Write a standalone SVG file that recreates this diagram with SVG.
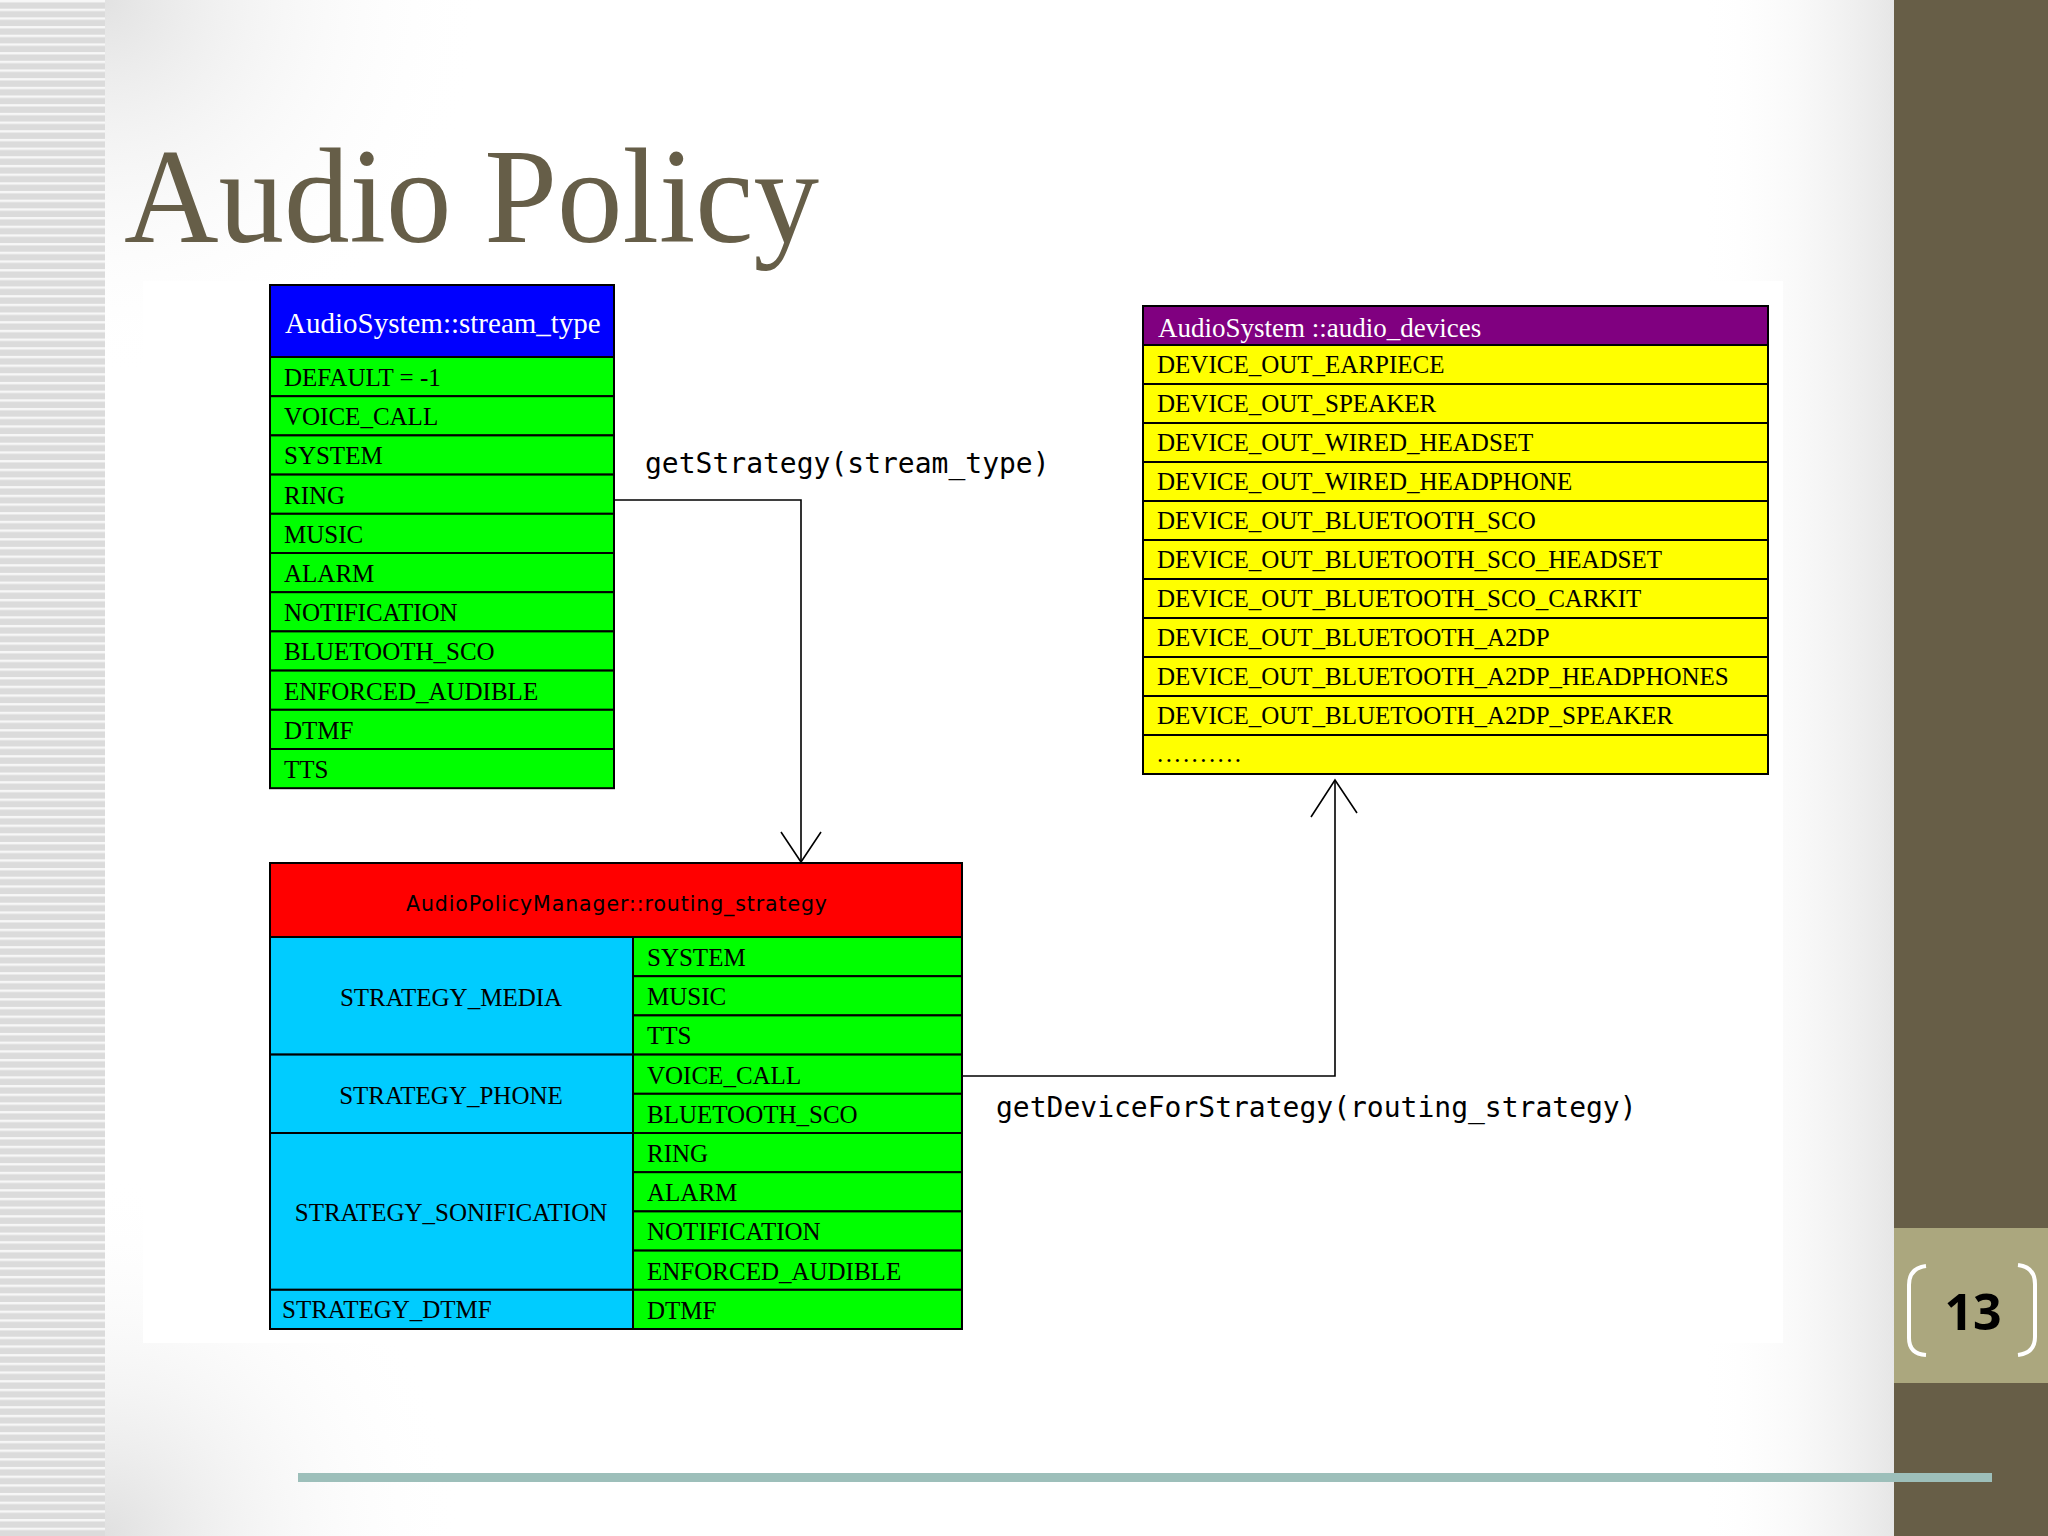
<svg xmlns="http://www.w3.org/2000/svg" width="2048" height="1536" viewBox="0 0 2048 1536">
<defs>
<pattern id="stripes" patternUnits="userSpaceOnUse" width="105" height="8.68">
<rect width="105" height="8.68" fill="#dbdbdb"/>
<rect y="0" width="105" height="2.4" fill="#f7f7f7"/>
</pattern>
<radialGradient id="tl" cx="105" cy="0" r="380" gradientUnits="userSpaceOnUse">
<stop offset="0" stop-color="#e2e2e2"/>
<stop offset="1" stop-color="#ffffff" stop-opacity="0"/>
</radialGradient>
<radialGradient id="bl" cx="105" cy="1536" r="360" gradientUnits="userSpaceOnUse">
<stop offset="0" stop-color="#e0e0e0"/>
<stop offset="1" stop-color="#ffffff" stop-opacity="0"/>
</radialGradient>
<linearGradient id="rt" x1="1700" y1="0" x2="1894" y2="0" gradientUnits="userSpaceOnUse">
<stop offset="0" stop-color="#ffffff" stop-opacity="0"/>
<stop offset="1" stop-color="#e6e6e6"/>
</linearGradient>
<style>
.cell{stroke:#000;stroke-width:2}
.g{fill:#00ff00}
.y{fill:#ffff00}
.c{fill:#00ccff}
.t{font-family:"Liberation Serif","Times New Roman",serif;font-size:25px;fill:#000}
.h{font-family:"Liberation Serif","Times New Roman",serif;fill:#fff}
.mono{font-family:"DejaVu Sans Mono","Liberation Mono",monospace;font-size:28px;fill:#000}
.conn{fill:none;stroke:#000;stroke-width:1.6}
</style>
</defs>

<!-- background -->
<rect x="0" y="0" width="2048" height="1536" fill="#ffffff"/>
<rect x="105" y="0" width="1789" height="1536" fill="url(#tl)"/>
<rect x="105" y="0" width="1789" height="1536" fill="url(#bl)"/>
<rect x="1700" y="0" width="194" height="1536" fill="url(#rt)"/>
<rect x="0" y="0" width="105" height="1536" fill="url(#stripes)"/>
<rect x="143" y="281" width="1640" height="1062" fill="#ffffff"/>

<!-- right panel -->
<rect x="1894" y="0" width="154" height="1536" fill="#675e47"/>
<rect x="1894" y="1228" width="154" height="155" fill="#aba77e"/>
<path d="M1926,1266 Q1909,1268 1909,1285 L1909,1338 Q1909,1354 1926,1355" fill="none" stroke="#fff" stroke-width="4"/>
<path d="M2018,1265 Q2035,1267 2035,1284 L2035,1337 Q2035,1353 2018,1355" fill="none" stroke="#fff" stroke-width="4"/>
<text x="1973" y="1330" text-anchor="middle" font-family="Open Sans, DejaVu Sans, sans-serif" font-weight="bold" font-size="50" fill="#000">13</text>

<!-- bottom rule -->
<rect x="298" y="1473" width="1694" height="9" fill="#9dbfba"/>

<!-- title -->
<text x="124" y="242" font-family="Liberation Serif, Times New Roman, serif" font-size="135" fill="#665e48" textLength="695" lengthAdjust="spacingAndGlyphs">Audio Policy</text>

<!-- connectors -->
<g id="connectors">
<path class="conn" d="M614,500 H801 V862"/>
<path class="conn" d="M781,832 L801,862 L821,832"/>
<text class="mono" x="645" y="473">getStrategy(stream_type)</text>
<path class="conn" d="M962,1076 H1335 V781"/>
<path class="conn" d="M1311,817 L1335,780 L1357,813"/>
<text class="mono" x="996" y="1117">getDeviceForStrategy(routing_strategy)</text>
</g>

<!-- stream_type table -->
<g id="stream_type">
<rect class="cell" x="270" y="285" width="344" height="72" fill="#0000ff"/>
<text class="h" x="285" y="333" font-size="29">AudioSystem::stream_type</text>
<rect class="cell g" x="270" y="357" width="344" height="39.2"/>
<rect class="cell g" x="270" y="396.2" width="344" height="39.2"/>
<rect class="cell g" x="270" y="435.4" width="344" height="39.2"/>
<rect class="cell g" x="270" y="474.6" width="344" height="39.2"/>
<rect class="cell g" x="270" y="513.8" width="344" height="39.2"/>
<rect class="cell g" x="270" y="553" width="344" height="39.2"/>
<rect class="cell g" x="270" y="592.2" width="344" height="39.2"/>
<rect class="cell g" x="270" y="631.4" width="344" height="39.2"/>
<rect class="cell g" x="270" y="670.6" width="344" height="39.2"/>
<rect class="cell g" x="270" y="709.8" width="344" height="39.2"/>
<rect class="cell g" x="270" y="749" width="344" height="39.2"/>
<text class="t" x="284" y="386">DEFAULT = -1</text>
<text class="t" x="284" y="425.2">VOICE_CALL</text>
<text class="t" x="284" y="464.4">SYSTEM</text>
<text class="t" x="284" y="503.6">RING</text>
<text class="t" x="284" y="542.8">MUSIC</text>
<text class="t" x="284" y="582">ALARM</text>
<text class="t" x="284" y="621.2">NOTIFICATION</text>
<text class="t" x="284" y="660.4">BLUETOOTH_SCO</text>
<text class="t" x="284" y="699.6">ENFORCED_AUDIBLE</text>
<text class="t" x="284" y="738.8">DTMF</text>
<text class="t" x="284" y="778">TTS</text>
</g>

<!-- audio_devices table -->
<g id="audio_devices">
<rect class="cell" x="1143" y="306" width="625" height="39" fill="#800080"/>
<text class="h" x="1158" y="337" font-size="27">AudioSystem ::audio_devices</text>
<rect class="cell y" x="1143" y="345" width="625" height="39"/>
<rect class="cell y" x="1143" y="384" width="625" height="39"/>
<rect class="cell y" x="1143" y="423" width="625" height="39"/>
<rect class="cell y" x="1143" y="462" width="625" height="39"/>
<rect class="cell y" x="1143" y="501" width="625" height="39"/>
<rect class="cell y" x="1143" y="540" width="625" height="39"/>
<rect class="cell y" x="1143" y="579" width="625" height="39"/>
<rect class="cell y" x="1143" y="618" width="625" height="39"/>
<rect class="cell y" x="1143" y="657" width="625" height="39"/>
<rect class="cell y" x="1143" y="696" width="625" height="39"/>
<rect class="cell y" x="1143" y="735" width="625" height="39"/>
<text class="t" x="1157" y="373">DEVICE_OUT_EARPIECE</text>
<text class="t" x="1157" y="412">DEVICE_OUT_SPEAKER</text>
<text class="t" x="1157" y="451">DEVICE_OUT_WIRED_HEADSET</text>
<text class="t" x="1157" y="490">DEVICE_OUT_WIRED_HEADPHONE</text>
<text class="t" x="1157" y="529">DEVICE_OUT_BLUETOOTH_SCO</text>
<text class="t" x="1157" y="568">DEVICE_OUT_BLUETOOTH_SCO_HEADSET</text>
<text class="t" x="1157" y="607">DEVICE_OUT_BLUETOOTH_SCO_CARKIT</text>
<text class="t" x="1157" y="646">DEVICE_OUT_BLUETOOTH_A2DP</text>
<text class="t" x="1157" y="685">DEVICE_OUT_BLUETOOTH_A2DP_HEADPHONES</text>
<text class="t" x="1157" y="724">DEVICE_OUT_BLUETOOTH_A2DP_SPEAKER</text>
<text class="t" x="1157" y="762" letter-spacing="2.4">..........</text>
</g>

<!-- routing_strategy table -->
<g id="routing_strategy">
<rect class="cell" x="270" y="863" width="692" height="74" fill="#ff0000"/>
<text x="406" y="911" font-family="DejaVu Sans, Verdana, sans-serif" font-size="20.5" fill="#000" textLength="421" lengthAdjust="spacing">AudioPolicyManager::routing_strategy</text>
<rect class="cell c" x="270" y="937" width="363" height="117.6"/>
<rect class="cell c" x="270" y="1054.6" width="363" height="78.4"/>
<rect class="cell c" x="270" y="1133" width="363" height="156.8"/>
<rect class="cell c" x="270" y="1289.8" width="363" height="39.2"/>
<rect class="cell g" x="633" y="937" width="329" height="39.2"/>
<rect class="cell g" x="633" y="976.2" width="329" height="39.2"/>
<rect class="cell g" x="633" y="1015.4" width="329" height="39.2"/>
<rect class="cell g" x="633" y="1054.6" width="329" height="39.2"/>
<rect class="cell g" x="633" y="1093.8" width="329" height="39.2"/>
<rect class="cell g" x="633" y="1133" width="329" height="39.2"/>
<rect class="cell g" x="633" y="1172.2" width="329" height="39.2"/>
<rect class="cell g" x="633" y="1211.4" width="329" height="39.2"/>
<rect class="cell g" x="633" y="1250.6" width="329" height="39.2"/>
<rect class="cell g" x="633" y="1289.8" width="329" height="39.2"/>
<text class="t" x="451" y="1006" text-anchor="middle">STRATEGY_MEDIA</text>
<text class="t" x="451" y="1104" text-anchor="middle">STRATEGY_PHONE</text>
<text class="t" x="451" y="1221" text-anchor="middle">STRATEGY_SONIFICATION</text>
<text class="t" x="282" y="1318">STRATEGY_DTMF</text>
<text class="t" x="647" y="966">SYSTEM</text>
<text class="t" x="647" y="1005.2">MUSIC</text>
<text class="t" x="647" y="1044.4">TTS</text>
<text class="t" x="647" y="1083.6">VOICE_CALL</text>
<text class="t" x="647" y="1122.8">BLUETOOTH_SCO</text>
<text class="t" x="647" y="1162">RING</text>
<text class="t" x="647" y="1201.2">ALARM</text>
<text class="t" x="647" y="1240.4">NOTIFICATION</text>
<text class="t" x="647" y="1279.6">ENFORCED_AUDIBLE</text>
<text class="t" x="647" y="1318.8">DTMF</text>
</g>
</svg>
